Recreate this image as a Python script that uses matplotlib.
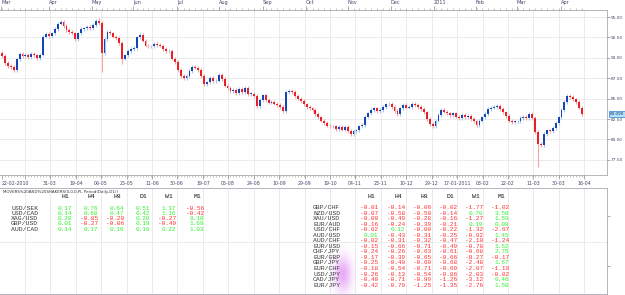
import numpy as np
import matplotlib.pyplot as plt
from matplotlib.patches import Rectangle
from matplotlib.transforms import blended_transform_factory

# daily closes (roughly one value every 2 trading days)
closes = [
    90.2, 89.4, 89.0, 88.9, 88.5, 89.8, 90.5, 90.2, 90.4, 90.1, 90.5, 90.3, 90.0, 90.4,
    92.6, 92.9, 92.7, 93.0, 93.5, 94.2, 94.4, 93.9, 93.4, 93.2, 93.0, 92.3, 93.0, 93.5,
    93.6, 93.8, 93.6, 94.0, 94.5, 94.3,
    90.6, 92.3, 93.2, 93.0, 92.6, 92.4, 91.8, 89.9, 90.3, 90.8, 91.1, 91.2, 92.5, 92.8,
    92.1, 91.5, 91.4, 91.4, 91.7, 91.6, 91.5, 91.1, 90.8, 90.8,
    89.9, 89.5, 88.5, 87.8, 87.5, 87.8, 88.4, 88.9, 88.8, 88.5, 87.8, 86.8, 87.0, 87.5,
    87.1, 87.2, 87.9, 87.4, 86.6, 86.3, 85.9, 86.1, 85.7, 86.2, 85.8, 86.3, 85.6, 85.6,
    85.3, 84.1, 84.8, 85.4, 84.8, 84.5, 84.6, 84.4, 84.2, 84.0, 83.5,
    85.8, 85.9, 85.8, 85.3, 85.0, 84.7, 84.3, 84.0, 83.8, 83.6, 83.1, 82.7, 82.3, 82.0,
    81.7, 81.6, 81.6, 81.3, 81.5, 81.2, 81.5, 81.0, 80.7, 81.0, 81.1, 81.6, 81.8, 82.8,
    83.2, 83.6, 83.8, 83.5, 83.6, 84.0, 84.3, 84.4, 84.0, 83.5, 83.1, 83.8, 84.2, 83.9,
    84.0, 84.4, 84.2, 84.0, 83.7, 83.3, 82.5, 81.9, 81.6, 82.3, 83.0, 83.6, 83.4, 83.2,
    83.0, 83.2, 82.8, 82.6, 83.0, 82.7, 82.9, 82.5, 82.2, 81.8, 82.3, 82.7, 83.1, 83.7,
    83.9, 84.0, 84.1, 83.7, 83.3, 82.9, 82.3, 82.1, 82.2, 82.2, 82.6, 82.8, 82.6, 83.1,
    82.6, 80.9, 79.5, 79.3, 80.7, 81.1, 81.0, 81.4, 82.0, 82.7, 83.6, 84.6, 85.3, 85.2,
    84.9, 84.6, 83.9, 83.09,
]
first_open = 90.6
spike_highs = {33: 94.9}
spike_lows = {34: 88.3, 41: 89.2, 119: 80.4, 183: 76.6}

price_ticks = [95.0, 92.5, 90.0, 87.5, 85.0, 82.5, 80.0, 77.5]
date_labels = ['22-02-2010', '', '31-03', '19-04', '06-05', '25-05', '11-06', '30-06',
               '19-07', '05-08', '24-08', '10-09', '29-09', '19-10', '04-11', '23-11',
               '10-12', '29-12', '17-01-2011', '03-02', '22-02', '11-03', '30-03', '16-04']
month_labels = ['Mar', 'Apr', 'May', 'Jun', 'Jul', 'Aug', 'Sep', 'Oct', 'Nov', 'Dec',
                '2011', 'Feb', 'Mar', 'Apr']

title = 'MOVERS%20AND%20SHAKERS(0,0,0,PL Period(Daily,D1))'
periods = ['H1', 'H4', 'H8', 'D1', 'W1', 'M1']

left_pairs = ['USD/SEK', 'USD/CAD', 'XAG/USD', 'GBP/USD', 'AUD/CAD']
left_values = [
    [0.17, 0.76, 0.64, 0.51, 1.37, -0.56],
    [0.14, 0.60, 0.47, 0.42, 1.16, -0.42],
    [0.20, -0.85, -0.20, 0.20, -0.27, 8.10],
    [0.01, -0.27, -0.06, 0.19, -0.49, 1.69],
    [0.14, 0.17, 0.16, 0.16, 0.22, 1.03],
]
right_pairs = ['GBP/CHF', 'NZD/USD', 'XAU/USD', 'EUR/AUD', 'USD/CHF', 'AUD/USD',
               'AUD/CHF', 'EUR/USD', 'CHF/JPY', 'EUR/GBP', 'GBP/JPY', 'EUR/CHF',
               'USD/JPY', 'CAD/JPY', 'EUR/JPY']
right_values = [
    [-0.01, -0.14, -0.06, -0.02, -1.77, -1.02],
    [-0.07, -0.58, -0.50, -0.14, 0.70, 3.50],
    [-0.00, -0.49, -0.28, -0.16, -1.27, 1.59],
    [-0.16, -0.24, -0.39, -0.21, 0.19, 0.08],
    [-0.02, 0.12, -0.00, -0.22, -1.32, -2.67],
    [0.01, -0.43, -0.31, -0.25, -0.92, 1.45],
    [-0.02, -0.31, -0.32, -0.47, -2.10, -1.24],
    [-0.15, -0.66, -0.71, -0.49, -0.78, 1.52],
    [-0.24, -0.26, -0.63, -0.61, -0.68, 2.75],
    [-0.17, -0.39, -0.65, -0.66, -0.27, -0.17],
    [-0.25, -0.40, -0.60, -0.68, -2.48, 1.67],
    [-0.18, -0.54, -0.71, -0.69, -2.07, -1.19],
    [-0.26, -0.13, -0.54, -0.86, -2.03, -0.02],
    [-0.40, -0.71, -0.99, -1.26, -3.12, 0.46],
    [-0.42, -0.79, -1.25, -1.35, -2.76, 1.50],
]

# ---- layout (pixels of the 625x295 picture) ----
W, H = 625, 295
grid_px = [25, 50, 76, 101, 127, 152, 177, 203, 228, 254, 279, 305, 330, 355,
           381, 406, 432, 457, 483, 508, 533, 559, 584]
date_px = [2] + grid_px
month_px = [1, 49, 92, 133, 177, 219, 263, 306, 348, 391, 434, 476, 517, 561]
first_px, last_px, right_px = 2, 582, 607
step = (last_px - first_px) / (len(closes) - 1)


def px2i(p):
    return (np.asarray(p, dtype=float) - first_px) / step


def box(l, t, r, b):
    return [l / W, 1 - b / H, (r - l) / W, (b - t) / H]


axis_col = '#45456a'
grid_col = '#e8e8e8'
spine_col = '#a8a8b0'
up_body, dn_body = '#1646b4', '#e8202a'
up_wick, dn_wick = '#a8c6ec', '#f5a6a6'

fig = plt.figure(figsize=(W / 100, H / 100), dpi=100, facecolor='white')

# ---- price pane ----
ax = fig.add_axes(box(0, 10, right_px, 175))
ax.set_xlim(px2i(0), px2i(right_px))
ax.set_ylim(75.64, 95.86)

for g in grid_px:
    ax.axvline(px2i(g), color=grid_col, lw=0.6, zorder=0)
for p in price_ticks:
    ax.axhline(p, color=grid_col, lw=0.6, zorder=0)

prev = first_open
for i, c in enumerate(closes):
    o = prev
    up = c >= o
    hi = spike_highs.get(i, max(o, c) + 0.22)
    lo = spike_lows.get(i, min(o, c) - 0.22)
    ax.vlines(i, lo, hi, color=up_wick if up else dn_wick, lw=0.8, zorder=2)
    ax.add_patch(Rectangle((i - 0.32, min(o, c)), 0.64, max(abs(c - o), 0.06),
                           facecolor=up_body if up else dn_body, edgecolor='none', zorder=3))
    prev = c

for s in ax.spines.values():
    s.set_color(spine_col)
    s.set_linewidth(0.6)
ax.spines['left'].set_visible(False)

ax.set_xticks(px2i(date_px))
ax.set_xticklabels(date_labels)
ax.xaxis.get_majorticklabels()[0].set_horizontalalignment('left')
ax.set_xticks(np.arange(len(closes)), minor=True)
ax.tick_params(axis='x', which='major', length=3, width=0.5, color='#888888',
               labelsize=3.4, labelcolor=axis_col, pad=1.2)
ax.tick_params(axis='x', which='minor', length=1.3, width=0.4, color='#999999')

ax.yaxis.tick_right()
ax.set_yticks(price_ticks)
ax.set_yticklabels([f'{p:.2f}' for p in price_ticks])
ax.tick_params(axis='y', length=2, width=0.5, color='#888888', labelsize=3.1,
               labelcolor=axis_col, pad=0.8)

top = ax.twiny()
top.set_xlim(ax.get_xlim())
top.set_xticks(px2i(month_px))
top.set_xticklabels(month_labels)
for t in top.get_xticklabels():
    t.set_horizontalalignment('left')
top.set_xticks(np.arange(0, len(closes), 2), minor=True)
top.tick_params(axis='x', which='major', length=3, width=0.5, color='#888888',
                labelsize=3.6, labelcolor=axis_col, pad=0.8)
top.tick_params(axis='x', which='minor', length=1.3, width=0.4, color='#999999')
for s in top.spines.values():
    s.set_visible(False)

# current price box
last = closes[-1]
tr = blended_transform_factory(ax.transAxes, ax.transData)
ax.text(1.004, last, f'{last:.3f}', transform=tr, fontsize=3.0, color='#10307a',
        va='center', ha='left', clip_on=False,
        bbox=dict(boxstyle='square,pad=0.2', facecolor='#b4e2f7', edgecolor='#2f7fd0', lw=0.5))

# ---- indicator pane ----
ax2 = fig.add_axes(box(0, 188, right_px, 294))
ax2.set_xlim(ax.get_xlim())
ax2.set_ylim(0, 1)
for g in grid_px:
    ax2.axvline(px2i(g), color=grid_col, lw=0.6, zorder=0)
ax2.axhline(0.49, color=grid_col, lw=0.6, zorder=0)
ax2.set_xticks([])
ax2.yaxis.tick_right()
ax2.set_yticks([0.26, 0.74])
ax2.set_yticklabels([])
ax2.tick_params(axis='y', length=2.5, width=0.5, color='#888888')
for s in ax2.spines.values():
    s.set_color(spine_col)
    s.set_linewidth(0.6)
ax2.spines['left'].set_visible(False)

# ---- table overlay in pixel coordinates ----
ov = fig.add_axes([0, 0, 1, 1], zorder=5)
ov.set_xlim(0, W)
ov.set_ylim(H, 0)
ov.axis('off')
ov.patch.set_alpha(0)

# purple glow behind the lower right pair names
gx, gy = np.meshgrid(np.linspace(322, 364, 60), np.linspace(236, 296, 90))
glow = np.zeros(gx.shape + (4,))
glow[..., 0], glow[..., 1], glow[..., 2] = 0.86, 0.45, 0.95
glow[..., 3] = 0.6 * np.exp(-((gx - 343) / 8.5) ** 2 - ((gy - 274) / 17) ** 2)
ov.imshow(glow, extent=(322, 364, 296, 236), origin='upper', aspect='auto',
          interpolation='bilinear', zorder=1)

ov.text(3, 192, title, fontsize=2.9, color='#333333', va='center', ha='left')

mono = 'Liberation Mono'
green, red = '#2ef02e', '#ff2e2e'


def draw_table(pairs, values, name_x, right_edges, y0, dy):
    for k, per in enumerate(periods):
        ov.text(right_edges[k] - 7, 196, per, fontsize=4.6, family=mono,
                color='#111111', ha='center', va='center', zorder=3)
    for r, (pair, row) in enumerate(zip(pairs, values)):
        y = y0 + r * dy
        ov.text(name_x, y, pair, fontsize=4.6, family=mono, color='#3a3a3a',
                ha='left', va='center', zorder=3)
        for k, v in enumerate(row):
            ov.text(right_edges[k], y, f'{v:.2f}', fontsize=4.4, family=mono,
                    color=red if np.signbit(v) else green,
                    ha='right', va='center', zorder=3)


draw_table(left_pairs, left_values, 11, [72, 98, 124, 150, 176, 204], 208, 5.3)
draw_table(right_pairs, right_values, 313, [378, 405, 431, 457, 483, 509], 207.8, 5.52)

fig.savefig('out.png', dpi=100, facecolor='white')
